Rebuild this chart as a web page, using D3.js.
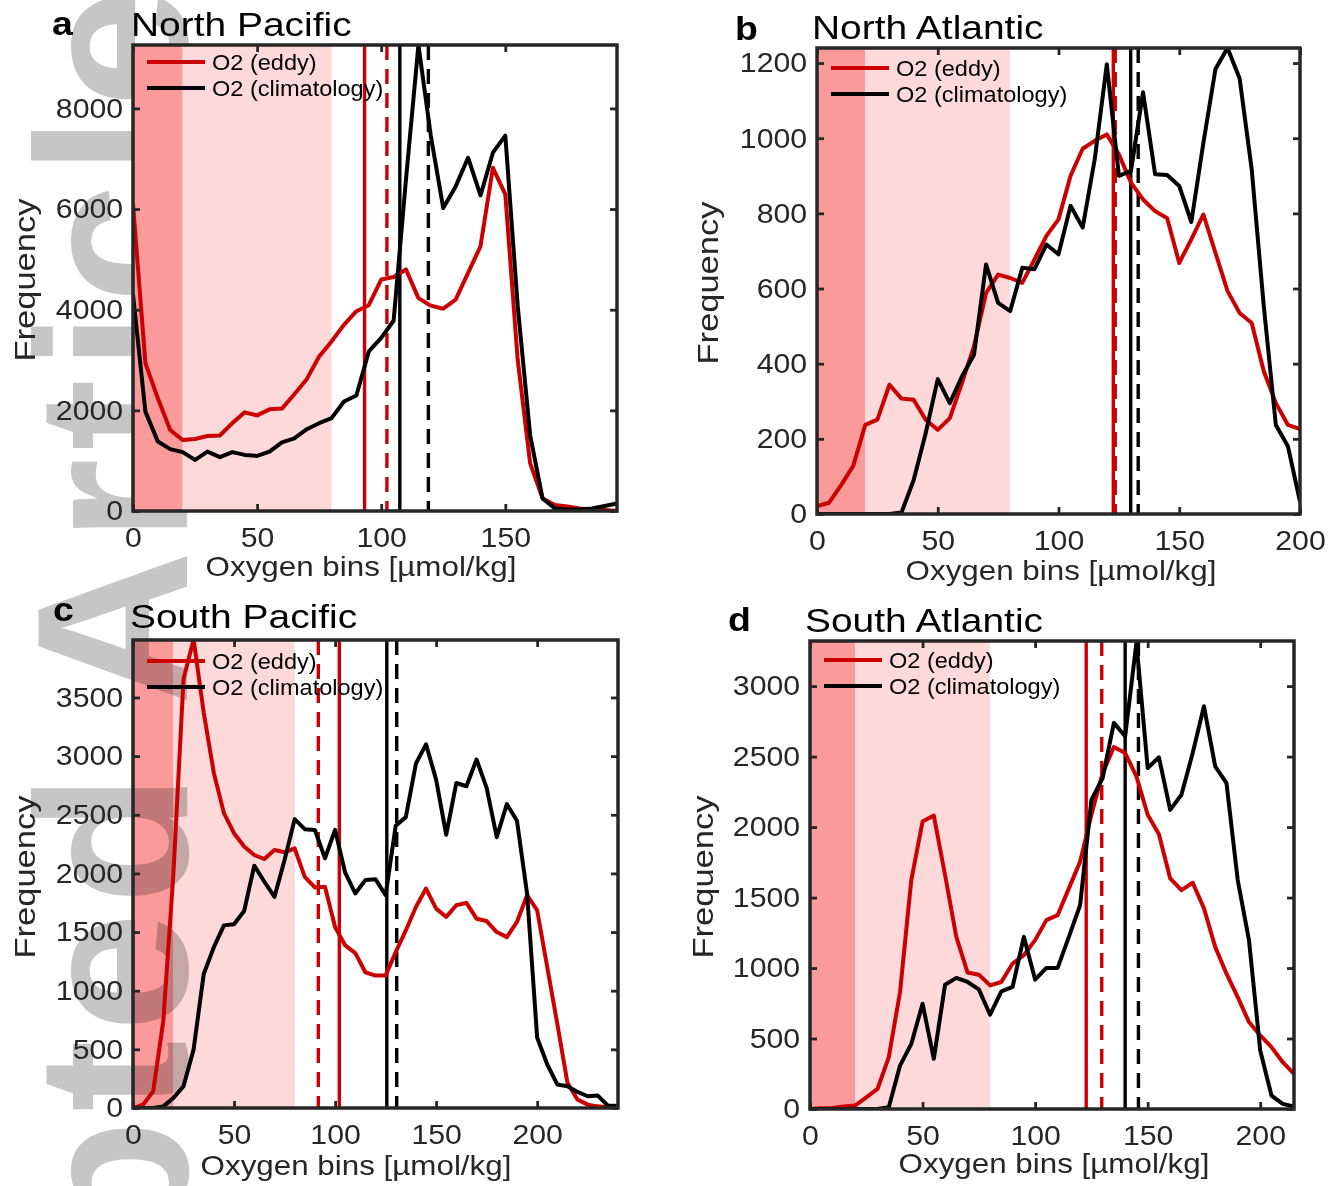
<!DOCTYPE html>
<html>
<head>
<meta charset="utf-8">
<script src="https://cdn.jsdelivr.net/npm/d3@7/dist/d3.min.js"></script>
<style>
  body { margin: 0; background: #fff; }
  text { font-family: "Liberation Sans", Arial, sans-serif; }
</style>
</head>
<body>
<svg id="fig" width="1333" height="1186"></svg>
<script>
// oxygen bin starts, 5 umol/kg wide
var oxygenBins = [0, 5, 10, 15, 20, 25, 30, 35, 40, 45, 50, 55, 60, 65, 70, 75, 80, 85, 90, 95,
  100, 105, 110, 115, 120, 125, 130, 135, 140, 145, 150, 155, 160, 165, 170, 175, 180, 185, 190, 195,
  200, 205, 210, 215, 220, 225, 230, 235, 240];

// North Pacific
var eddyNP = [6100, 2940, 2240, 1610, 1410, 1430, 1490, 1500, 1745, 1960, 1900, 2020, 2035, 2320, 2620, 3070,
  3370, 3700, 3970, 4090, 4600, 4650, 4800, 4230, 4080, 4020, 4200, 4730, 5260, 6820, 6290, 3000,
  950, 250, 120, 90, 50, 30, 20, 0];
var climNP = [4300, 1975, 1380, 1230, 1170, 1015, 1180, 1070, 1170, 1115, 1095, 1180, 1365, 1445, 1625, 1745,
  1845, 2175, 2295, 3170, 3440, 3780, 6600, 9260, 7450, 6020, 6450, 7020, 6270, 7120, 7460, 4070,
  1510, 250, 50, 30, 30, 50, 100, 150];

// North Atlantic
var eddyNA = [21, 30, 77, 128, 237, 251, 344, 307, 304, 251, 224, 255, 348, 446, 588, 637, 628, 615, 677, 740,
  784, 900, 972, 993, 1010, 957, 882, 837, 806, 787, 668, 731, 797, 695, 593, 535, 508, 380, 295, 237, 226];
var climNA = [0, 0, 0, 0, 0, 0, 0, 4, 90, 215, 359, 295, 366, 424, 664, 562, 540, 655, 651, 717,
  691, 820, 762, 944, 1197, 900, 913, 1122, 904, 902, 873, 777, 988, 1184, 1240, 1159, 917, 553, 237, 180, 33];

// South Pacific
var eddySP = [0, 29, 143, 743, 2000, 3657, 3994, 3371, 2857, 2514, 2343, 2229, 2157, 2123, 2200, 2180, 2214,
  1971, 1880, 1886, 1543, 1386, 1320, 1157, 1129, 1129, 1329, 1514, 1714, 1871, 1700, 1629, 1729,
  1749, 1614, 1594, 1500, 1457, 1586, 1814, 1686, 1200, 714, 214, 71, 29, 14, 6, 0];
var climSP = [0, 0, 0, 14, 86, 186, 500, 1143, 1371, 1557, 1566, 1680, 2066, 1929, 1800, 2114, 2463,
  2377, 2371, 2129, 2371, 2006, 1829, 1943, 1951, 1814, 2406, 2480, 2937, 3100, 2800, 2329, 2771,
  2743, 2971, 2729, 2309, 2591, 2449, 1829, 600, 371, 200, 186, 137, 100, 106, 20, 20];

// South Atlantic
var eddySA = [0, 5, 7, 17, 24, 83, 142, 368, 830, 1624, 2039, 2082, 1660, 1221, 968, 953, 877, 901, 1032, 1091,
  1198, 1340, 1375, 1565, 1755, 2087, 2383, 2568, 2525, 2360, 2087, 1949, 1636, 1553, 1605, 1423,
  1150, 960, 794, 617, 522, 439, 332, 249];
var climSA = [0, 0, 0, 0, 0, 0, 0, 12, 308, 462, 747, 356, 882, 930, 901, 849, 669, 835, 866, 1221,
  918, 1001, 1001, 1221, 1447, 2193, 2348, 2739, 2644, 3308, 2419, 2495, 2122, 2229, 2525, 2857,
  2431, 2312, 1624, 1198, 415, 95, 36, 17];

// vertical reference lines, order a b c d
var eddySolidLine = [93.3, 122.7, 102.1, 122.7];
var eddyDashedLine = [102.3, 123.5, 91.7, 129.6];
var climSolidLine = [107.5, 129.9, 125.6, 140];
var climDashedLine = [119, 133, 130.5, 145.9];

// shaded oxygen ranges
var suboxicRange = [0, 20];
var hypoxicRange = [20, 80];

var panelLetters = ["a", "b", "c", "d"];
var panelTitles = ["North Pacific", "North Atlantic", "South Pacific", "South Atlantic"];
var yTicksA = [0, 2000, 4000, 6000, 8000];
var yTicksB = [0, 200, 400, 600, 800, 1000, 1200];
var yTicksC = [0, 500, 1000, 1500, 2000, 2500, 3000, 3500];
var yTicksD = [0, 500, 1000, 1500, 2000, 2500, 3000];
var xTicksA = [0, 50, 100, 150];
var xTicksBCD = [0, 50, 100, 150, 200];
var legendLabels = ["O2 (eddy)", "O2 (climatology)"];

var RED = "#cc0000", INK = "#262626";

var panels = [
  {eddy: eddyNP, clim: climNP, xMax: 195, yMax: 9260, yTicks: yTicksA, xTicks: xTicksA,
   box: {l: 133, t: 45, r: 617, b: 511}, letterX: 52, letterY: 35, titleX: 131, titleY: 36,
   legY: 17, xlabX: 361, xlabY: 576, ylabX: 35, ylabY: 280},
  {eddy: eddyNA, clim: climNA, xMax: 200, yMax: 1240, yTicks: yTicksB, xTicks: xTicksBCD,
   box: {l: 817, t: 48, r: 1300, b: 514}, letterX: 735, letterY: 40, titleX: 812, titleY: 39,
   legY: 20, xlabX: 1061, xlabY: 580, ylabX: 718, ylabY: 283},
  {eddy: eddySP, clim: climSP, xMax: 240, yMax: 3990, yTicks: yTicksC, xTicks: xTicksBCD,
   box: {l: 133, t: 640, r: 618, b: 1108}, letterX: 53, letterY: 621, titleX: 130, titleY: 628,
   legY: 21, xlabX: 356, xlabY: 1175, ylabX: 35, ylabY: 877},
  {eddy: eddySA, clim: climSA, xMax: 215, yMax: 3320, yTicks: yTicksD, xTicks: xTicksBCD,
   box: {l: 810, t: 641, r: 1294, b: 1109}, letterX: 728, letterY: 631, titleX: 805, titleY: 632,
   legY: 19, xlabX: 1054, xlabY: 1173, ylabX: 713, ylabY: 877}
];

var svg = d3.select("#fig");
svg.append("rect").attr("width", 1333).attr("height", 1186).attr("fill", "#fff");

// layers: panel backgrounds that the watermark tints, the watermark, everything else
var underLayer = svg.append("g");
var wmLayer = svg.append("g").style("mix-blend-mode", "multiply");
var overLayer = svg.append("g");

// horizontally widened text, the figure text looks a bit stretched
function wideText(g, x, y, str, size, sx, rot) {
  return g.append("text")
    .attr("transform", "translate(" + x + "," + y + ")" + (rot ? " rotate(-90)" : "") + " scale(" + sx + ",1)")
    .attr("font-size", size)
    .attr("fill", INK)
    .text(str);
}

panels.forEach(function(p, i) {
  var x = d3.scaleLinear().domain([0, p.xMax]).range([p.box.l, p.box.r]);
  var y = d3.scaleLinear().domain([0, p.yMax]).range([p.box.b, p.box.t]);
  var w = p.box.r - p.box.l, h = p.box.b - p.box.t;

  // panel a sits above the watermark in the reference, panel c below it
  var back = (i === 0 ? overLayer : underLayer).append("g");
  back.append("rect").attr("x", p.box.l).attr("y", p.box.t).attr("width", w).attr("height", h).attr("fill", "#fff");
  back.append("rect")
    .attr("x", x(suboxicRange[0])).attr("y", p.box.t)
    .attr("width", x(suboxicRange[1]) - x(suboxicRange[0])).attr("height", h)
    .attr("fill", "#fa9a9a");
  back.append("rect")
    .attr("x", x(hypoxicRange[0])).attr("y", p.box.t)
    .attr("width", x(hypoxicRange[1]) - x(hypoxicRange[0])).attr("height", h)
    .attr("fill", "#fdd9d9");

  var front = overLayer.append("g");
  var clipId = "clip" + i;
  front.append("clipPath").attr("id", clipId)
    .append("rect").attr("x", p.box.l).attr("y", p.box.t).attr("width", w).attr("height", h);
  var plot = front.append("g").attr("clip-path", "url(#" + clipId + ")");

  // reference lines
  var vlines = [
    {v: eddySolidLine[i], c: RED, dash: null},
    {v: eddyDashedLine[i], c: RED, dash: "15,9"},
    {v: climSolidLine[i], c: "#000", dash: null},
    {v: climDashedLine[i], c: "#000", dash: "15,9"}
  ];
  plot.selectAll("line.vref").data(vlines).enter().append("line")
    .attr("class", "vref")
    .attr("x1", function(d) { return x(d.v); }).attr("x2", function(d) { return x(d.v); })
    .attr("y1", p.box.t).attr("y2", p.box.b)
    .attr("stroke", function(d) { return d.c; })
    .attr("stroke-width", 3.4)
    .attr("stroke-dasharray", function(d) { return d.dash; });

  var line = d3.line()
    .x(function(d, k) { return x(oxygenBins[k]); })
    .y(function(d) { return y(d); });

  plot.append("path").datum(p.eddy).attr("d", line)
    .attr("fill", "none").attr("stroke", RED).attr("stroke-width", 4).attr("stroke-linejoin", "round");
  plot.append("path").datum(p.clim).attr("d", line)
    .attr("fill", "none").attr("stroke", "#000").attr("stroke-width", 4).attr("stroke-linejoin", "round");

  // axes, ticks pointing inward on all four sides
  var axes = front.append("g");
  var gB = axes.append("g").attr("transform", "translate(0," + p.box.b + ")")
    .call(d3.axisBottom(x).tickValues(p.xTicks).tickFormat(d3.format("d"))
      .tickSizeInner(-7).tickSizeOuter(0).tickPadding(16));
  var gL = axes.append("g").attr("transform", "translate(" + p.box.l + ",0)")
    .call(d3.axisLeft(y).tickValues(p.yTicks).tickFormat(d3.format("d"))
      .tickSizeInner(-7).tickSizeOuter(0).tickPadding(9));
  axes.append("g").attr("transform", "translate(0," + p.box.t + ")")
    .call(d3.axisTop(x).tickValues(p.xTicks).tickSizeInner(-7).tickSizeOuter(0).tickFormat(""));
  axes.append("g").attr("transform", "translate(" + p.box.r + ",0)")
    .call(d3.axisRight(y).tickValues(p.yTicks).tickSizeInner(-7).tickSizeOuter(0).tickFormat(""));
  axes.selectAll(".domain").remove();
  axes.selectAll(".tick line").attr("stroke", INK).attr("stroke-width", 2.8);
  [gB, gL].forEach(function(g) {
    g.selectAll(".tick text")
      .attr("font-family", "Liberation Sans, Arial, sans-serif")
      .attr("font-size", 27.5)
      .attr("fill", INK)
      .attr("transform", "scale(1.1,1)");
  });

  front.append("rect").attr("x", p.box.l).attr("y", p.box.t).attr("width", w).attr("height", h)
    .attr("fill", "none").attr("stroke", INK).attr("stroke-width", 3.5);

  // legend, no box
  var leg = front.append("g").attr("transform", "translate(" + p.box.l + "," + (p.box.t + p.legY) + ")");
  [RED, "#000"].forEach(function(c, k) {
    leg.append("line").attr("x1", 14).attr("x2", 72).attr("y1", k * 26).attr("y2", k * 26)
      .attr("stroke", c).attr("stroke-width", 4);
    wideText(leg, 79, k * 26 + 8, legendLabels[k], 22, 1.07, false).attr("fill", "#000");
  });

  // titles and labels
  wideText(front, p.letterX, p.letterY, panelLetters[i], 34, 1.1, false)
    .attr("font-weight", "bold").attr("fill", "#000");
  wideText(front, p.titleX, p.titleY, panelTitles[i], 33, 1.18, false).attr("fill", "#000");
  wideText(front, p.xlabX, p.xlabY, "Oxygen bins [\u00b5mol/kg]", 28, 1.12, false)
    .attr("text-anchor", "middle");
  wideText(front, p.ylabX, p.ylabY, "Frequency", 30, 1.15, true)
    .attr("text-anchor", "middle");
});

// journal watermark down the left edge
wmLayer.append("text")
  .attr("transform", "translate(187,1797) rotate(-90)")
  .attr("font-size", 215)
  .attr("font-weight", "bold")
  .attr("letter-spacing", 8)
  .attr("fill", "#c6c6c6")
  .text("Accepted Article");
</script>
</body>
</html>
